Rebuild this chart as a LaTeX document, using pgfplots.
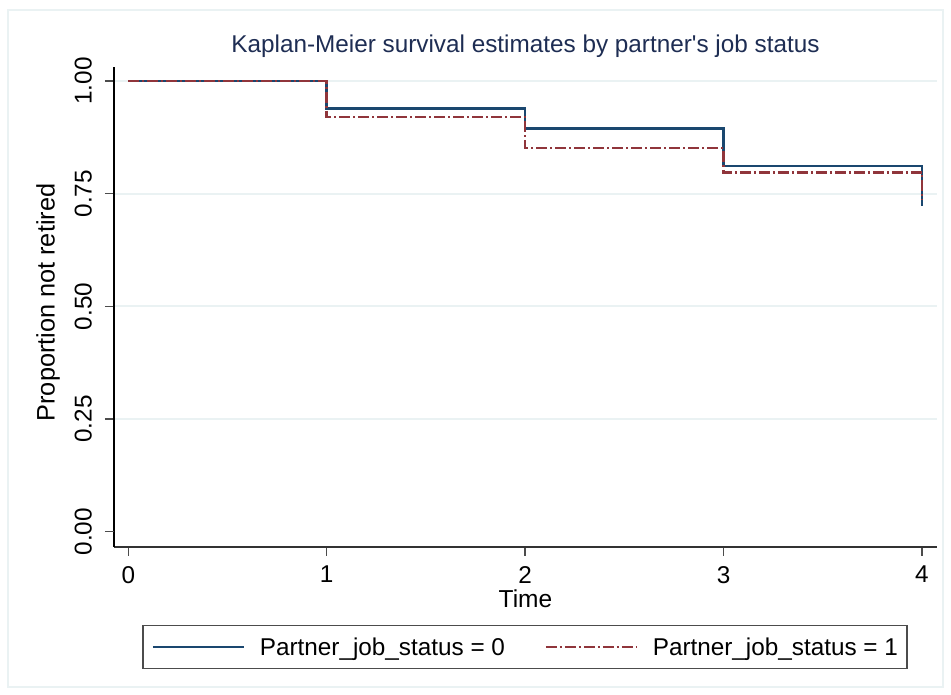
\documentclass[border=0pt]{standalone}
\usepackage{pgfplots}
\pgfplotsset{compat=1.18}
\usepackage{fontspec}
\setmainfont{Liberation Sans}
\definecolor{sblue}{HTML}{1A476F}
\definecolor{sred}{HTML}{90353B}
\definecolor{sgrid}{HTML}{EAF2F3}
\definecolor{stitle}{HTML}{1E2D53}
\begin{document}
\begin{tikzpicture}
\path[use as bounding box] (0,0) rectangle (951pt,695pt);
\draw[sgrid, line width=1.5pt] (8pt,8pt) rectangle (943pt,685pt);
\begin{axis}[
  at={(114pt,148pt)}, anchor=south west, scale only axis,
  width=823pt, height=480.3pt,
  xmin=-0.072, xmax=4.076, ymin=-0.034, ymax=1.032,
  axis x line*=bottom, axis y line*=left,
  x axis line style={black!80, line width=1.3pt, -},
  y axis line style={black, line width=1.3pt, -},
  xtick={0,1,2,3,4},
  ytick={0.25,0.5,0.75,1},
  yticklabels={0.25,0.50,0.75,1.00},
  extra y ticks={0}, extra y tick labels={0.00},
  extra y tick style={grid=none},
  ymajorgrids, grid style={sgrid, line width=2pt},
  tick align=outside, major tick length=9pt,
  tick style={black!70, line width=1.3pt},
  /pgf/number format/assume math mode=true,
  ticklabel style={font=\fontsize{24.3}{28}\selectfont},
  yticklabel style={xshift=-13pt, rotate=90, anchor=south, inner sep=0pt},
  xticklabel style={anchor=north, inner sep=0pt, yshift=-10pt},
  title={Kaplan-Meier survival estimates by partner\textquotesingle s job status},
  title style={at={(axis description cs:0.5,1)}, anchor=base, yshift=8.4pt,
    font=\fontsize{24.3}{28}\selectfont, text=stitle},
  xlabel={Time},
  xlabel style={at={(axis description cs:0.5,-0.108)}, anchor=center, font=\fontsize{24.5}{28}\selectfont},
  ylabel={Proportion not retired},
  ylabel style={at={(axis description cs:-0.0802,0.509)}, anchor=center, font=\fontsize{25.3}{29}\selectfont},
  legend columns=2,
  legend style={at={(axis description cs:0.4994,-0.1625)}, anchor=north,
    draw=black!70, line width=1.2pt, inner xsep=9pt, inner ysep=12pt,
    font=\fontsize{24.3}{28}\selectfont, nodes={inner sep=0pt},
    /tikz/every even column/.append style={column sep=40pt},
    /tikz/every odd column/.append style={column sep=15pt}},
  legend image code/.code={\draw[#1, line width=1.8pt] (0pt,0pt) -- (91pt,0pt);},
]
\addplot[sblue, line width=2.5pt, const plot] coordinates {(0,1) (1,0.939) (2,0.895) (3,0.812) (4,0.723)};
\addlegendentry{Partner\_job\_status = 0}
\addplot[sred, line width=2.5pt, const plot, dash pattern=on 11pt off 3pt on 2pt off 3pt] coordinates {(0,1) (1,0.920) (2,0.851) (3,0.797) (4,0.736)};
\addlegendentry{Partner\_job\_status = 1}
\end{axis}
\end{tikzpicture}
\end{document}
